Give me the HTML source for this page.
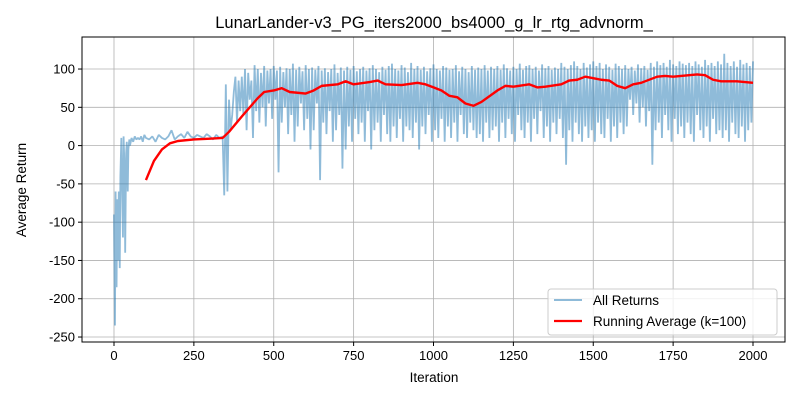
<!DOCTYPE html>
<html><head><meta charset="utf-8">
<style>
body{margin:0;background:#fff;}
svg{display:block;font-family:"Liberation Sans","DejaVu Sans",sans-serif;}
</style></head>
<body>
<svg id="chart" width="800" height="400"></svg>
<script>
const xTicks=[0,250,500,750,1000,1250,1500,1750,2000];
const yTicks=[-250,-200,-150,-100,-50,0,50,100];
const retIters=[0,3,5,8,10,13,15,18,20,23,25,28,30,33,35,38,40,43,45,48,50,55,60,65,70,75,80,85,90,95,100,110,120,130,140,150,160,170,180,190,200,210,220,230,240,250,260,270,280,290,300,310,320,330,340,345,350,355,360,365,370,375,380,385,390,395];
const retVals=[-90,-235,-60,-185,-70,-150,-60,-160,-40,10,-50,-120,12,-30,-140,-10,5,-60,-5,8,0,10,5,12,8,10,8,12,5,14,10,8,12,5,14,10,8,12,20,8,12,15,10,18,12,10,14,12,10,15,12,8,14,10,12,-65,80,-60,60,20,40,70,90,30,85,45];
const lateVals=[
90,40,100,20,95,60,85,10,105,45,100,30,95,50,104,25,98,55,100,35,
104,60,98,-35,103,30,96,50,101,15,100,40,107,5,99,25,103,55,97,20,
105,35,100,-5,102,20,99,55,104,-45,98,30,101,15,96,45,100,5,106,20,
95,40,102,-30,98,-5,103,25,99,5,104,35,97,15,100,30,103,5,98,45,
101,-5,105,20,100,30,96,5,103,40,99,15,104,5,107,25,100,10,98,35,
105,5,102,25,96,20,108,10,100,30,104,-5,99,25,103,15,97,40,101,5,
106,20,100,10,98,35,104,5,102,25,99,10,100,30,105,5,97,40,103,15,
100,10,96,30,104,20,99,10,102,15,100,5,105,30,98,10,103,20,100,25,
104,5,99,30,106,10,101,35,98,15,103,5,100,40,107,20,99,10,104,30,
105,5,100,35,103,15,98,45,106,10,101,25,104,5,99,30,102,15,100,35,
108,10,103,-25,100,20,105,5,110,30,104,15,100,5,108,25,102,10,106,20,
110,5,104,30,108,15,100,10,106,35,103,5,99,25,107,10,104,30,100,15,
105,25,100,60,103,40,98,55,106,30,101,50,104,25,99,45,108,-25,103,20,
110,30,105,10,108,40,103,20,112,5,106,35,104,15,110,25,107,10,105,30,
108,15,104,5,110,40,106,20,103,10,112,25,105,5,108,35,104,15,110,20,
106,10,120,20,108,5,104,30,110,15,103,10,112,25,106,5,108,20,104,30,
110];
const avgIters=[100,125,150,175,200,250,300,340,360,400,450,470,500,525,550,600,625,650,700,725,750,800,825,850,900,950,975,1000,1025,1050,1075,1100,1125,1150,1200,1225,1250,1300,1325,1350,1400,1425,1450,1475,1500,1525,1550,1575,1600,1625,1650,1700,1725,1750,1800,1825,1850,1875,1900,1950,2000];
const avgVals=[-45,-20,-5,3,6,8,9,10,18,38,62,70,72,75,70,68,72,78,80,84,80,83,85,80,79,82,80,76,72,65,63,55,52,57,72,78,77,80,76,77,80,85,86,90,88,86,85,78,75,80,82,90,91,90,92,93,92,86,84,84,82];

const L=82,R=785,T=37,B=342;
const X=v=>114+(v-0)*(753-114)/2000;
const Y=v=>145.6-v*0.7657;
const svg=document.getElementById('chart');
const NS='http://www.w3.org/2000/svg';
function mk(tag,attrs,parent){const e=document.createElementNS(NS,tag);for(const k in attrs)e.setAttribute(k,attrs[k]);(parent||svg).appendChild(e);return e;}

const grid=mk('g',{});


xTicks.forEach(t=>{mk('line',{x1:X(t),x2:X(t),y1:T,y2:B,stroke:'#b0b0b0','stroke-width':0.8},grid);});
yTicks.forEach(t=>{mk('line',{x1:L,x2:R,y1:Y(t),y2:Y(t),stroke:'#b0b0b0','stroke-width':0.8},grid);});

const allI=retIters.slice();const allV=retVals.slice();
lateVals.forEach((v,i)=>{allI.push(400+i*5);allV.push(v);});
const rp=mk('polyline',{points:allI.map((it,i)=>X(it)+','+Y(allV[i])).join(' '),fill:'none',stroke:'#1f77b4','stroke-opacity':0.5,'stroke-width':1.8,'stroke-linejoin':'bevel'});


const ap=mk('polyline',{points:avgIters.map((it,i)=>X(it)+','+Y(avgVals[i])).join(' '),fill:'none',stroke:'#ff0000','stroke-width':2.4,'stroke-linejoin':'round'});



const frame=mk('rect',{x:L,y:T,width:R-L,height:B-T,fill:'none',stroke:'#000','stroke-width':1});



xTicks.forEach(t=>{mk('line',{x1:X(t),x2:X(t),y1:B,y2:B+4,stroke:'#000'});
 const tx=mk('text',{x:X(t),y:B+18,'font-size':13,'text-anchor':'middle'});tx.textContent=t;
 
 });
yTicks.forEach(t=>{mk('line',{x1:L-4,x2:L,y1:Y(t),y2:Y(t),stroke:'#000'});
 const tx=mk('text',{x:L-7,y:Y(t)+4.5,'font-size':13,'text-anchor':'end'});tx.textContent=t;
 
 });

const ti=mk('text',{x:434,y:28,'font-size':16.5,'text-anchor':'middle'});ti.textContent='LunarLander-v3_PG_iters2000_bs4000_g_lr_rtg_advnorm_';


const xl=mk('text',{x:434,y:382,'font-size':13.5,'text-anchor':'middle'});xl.textContent='Iteration';


const yl=mk('text',{x:0,y:0,'font-size':13.5,'text-anchor':'middle',transform:'translate(26,190) rotate(-90)'});yl.textContent='Average Return';



const lg=mk('g',{});


mk('rect',{x:548,y:289,width:229,height:46,rx:3,fill:'#fff','fill-opacity':0.8,stroke:'#ccc'},lg);
mk('line',{x1:554,x2:582,y1:300,y2:300,stroke:'#1f77b4','stroke-opacity':0.5,'stroke-width':2},lg);
const t1=mk('text',{x:593,y:305,'font-size':13.5},lg);t1.textContent='All Returns';


mk('line',{x1:554,x2:582,y1:321,y2:321,stroke:'#ff0000','stroke-width':2.2},lg);
const t2=mk('text',{x:593,y:326,'font-size':13.5},lg);t2.textContent='Running Average (k=100)';


</script>
</body></html>
